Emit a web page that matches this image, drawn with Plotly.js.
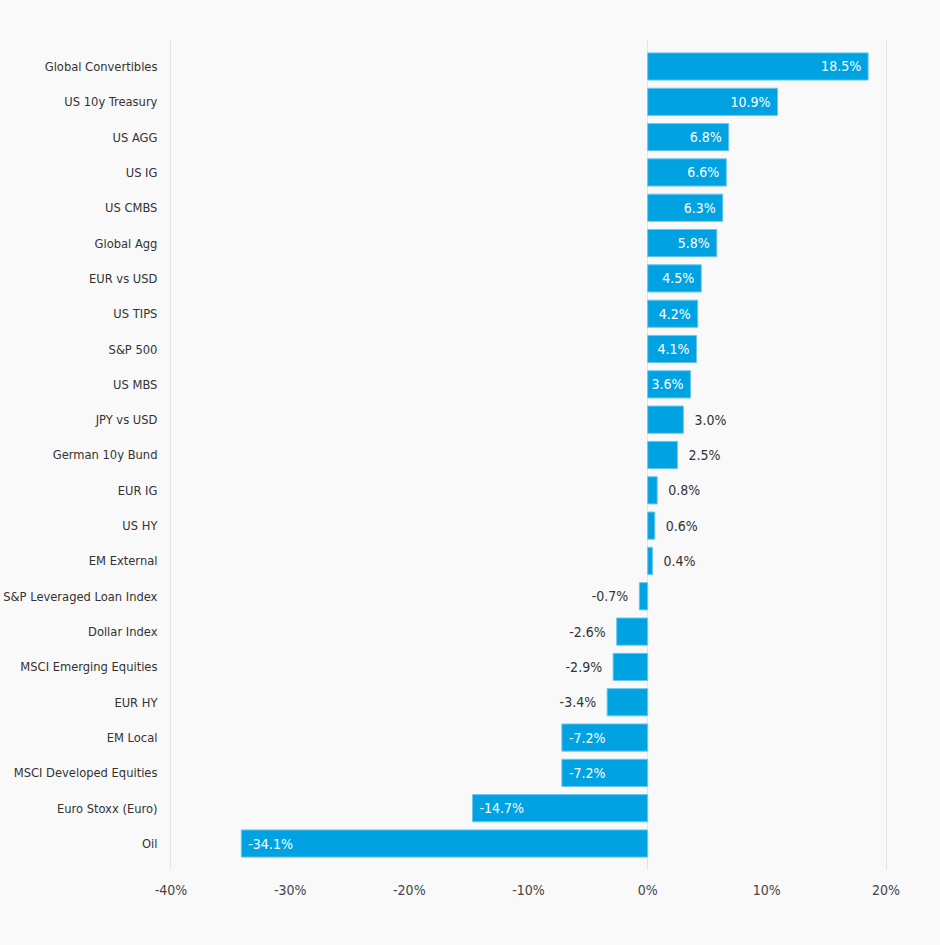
<!DOCTYPE html>
<html>
<head>
<meta charset="utf-8">
<script src="https://cdn.plot.ly/plotly-3.0.1.min.js"></script>
<style>html,body{margin:0;padding:0;background:#f9f9f9;}#chart{width:940px;height:945px;}</style>
</head>
<body>
<div id="chart"></div>
<script>
const categories = ["Global Convertibles","US 10y Treasury","US AGG","US IG","US CMBS","Global Agg","EUR vs USD","US TIPS","S&P 500","US MBS","JPY vs USD","German 10y Bund","EUR IG","US HY","EM External","S&P Leveraged Loan Index","Dollar Index","MSCI Emerging Equities","EUR HY","EM Local","MSCI Developed Equities","Euro Stoxx (Euro)","Oil"];
const returns = [18.5,10.9,6.8,6.6,6.3,5.8,4.5,4.2,4.1,3.6,3.0,2.5,0.8,0.6,0.4,-0.7,-2.6,-2.9,-3.4,-7.2,-7.2,-14.7,-34.1];
const tickVals = [-40,-30,-20,-10,0,10,20];
const tickText = ["-40%","-30%","-20%","-10%","0%","10%","20%"];

const FONT = "'DejaVu Sans Condensed','Roboto',sans-serif";
const NB = '\u00a0';
const positions = returns.map(v => Math.abs(v) >= 3.5 ? 'inside' : 'outside');
const labels = returns.map((v, i) => {
  const s = v.toFixed(1) + '%';
  if (positions[i] === 'inside') return v >= 0 ? s + NB : NB + s;
  return v >= 0 ? NB + NB + s : s + NB + NB;
});

const trace = {
  type: 'bar',
  orientation: 'h',
  y: categories,
  x: returns,
  marker: {color: '#00a2e1', line: {color: '#6cc6ee', width: 1}},
  text: labels,
  textposition: positions,
  insidetextanchor: 'end',
  textangle: 0,
  constraintext: 'none',
  cliponaxis: false,
  insidetextfont: {family: FONT, size: 14, color: '#ffffff'},
  outsidetextfont: {family: FONT, size: 14, color: '#333333'},
  hoverinfo: 'none'
};

const layout = {
  width: 940, height: 945,
  paper_bgcolor: '#f9f9f9', plot_bgcolor: '#f9f9f9',
  margin: {l: 171, r: 54, t: 40, b: 75},
  font: {family: FONT, size: 14, color: '#333333'},
  showlegend: false,
  bargap: 0.23,
  xaxis: {
    range: [-40, 20], tickvals: tickVals, ticktext: tickText,
    showgrid: false, zeroline: true, zerolinecolor: '#e4e4e4', zerolinewidth: 1,
    showline: false, ticks: '', ticklabelstandoff: 10,
    tickfont: {family: FONT, size: 14, color: '#444444'}, fixedrange: true
  },
  yaxis: {
    range: [22.75, -0.75], type: 'category',
    showgrid: false, zeroline: false,
    showline: true, mirror: true, linecolor: '#e4e4e4', linewidth: 1,
    ticks: '', ticklabelstandoff: 10,
    tickfont: {family: FONT, size: 12.8, color: '#333333'}, fixedrange: true
  }
};

Plotly.newPlot('chart', [trace], layout, {displayModeBar: false, staticPlot: true});
</script>
</body>
</html>
